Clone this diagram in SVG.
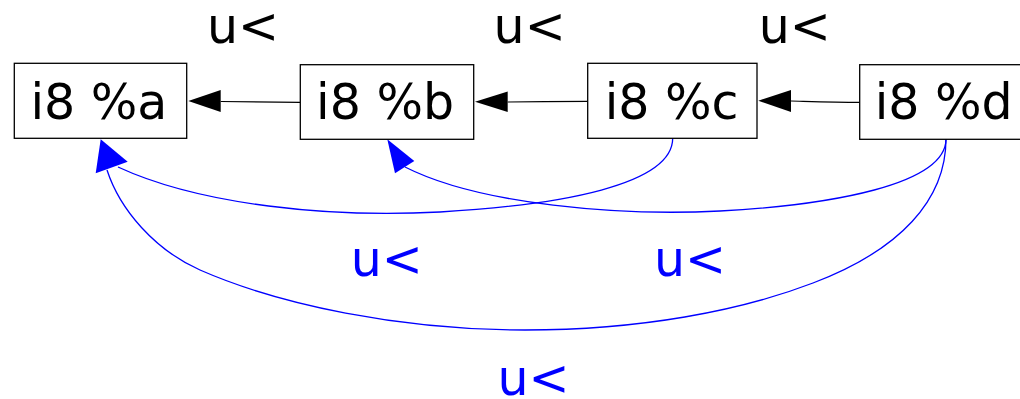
<svg xmlns="http://www.w3.org/2000/svg" width="1020" height="399" viewBox="0 0 1020 399">
  <style>
    .box { fill: #ffffff; stroke: #000000; stroke-width: 1.3; }
    .lbl { font-family: "DejaVu Sans", sans-serif; font-size: 49px; fill: #000000; }
    .blue { fill: #0000ff; }
    .edge { fill: none; stroke: #000000; stroke-width: 1.2; }
    .bedge { fill: none; stroke: #0000ff; stroke-width: 1.3; }
    .head { fill: #000000; stroke: none; }
    .bhead { fill: #0000ff; stroke: none; }
  </style>
  <rect width="1020" height="399" fill="#ffffff"/>

  <g id="connectors">
    <!-- dependency chain d -> c -> b -> a -->
    <path class="edge" d="M300,102.3 C270,102.1 245,101.6 220.7,101.5"/>
    <polygon class="head" points="188.3,101 220.7,90 220.7,112"/>
    <path class="edge" d="M587.7,101.3 C560,101.5 535,101.8 507.7,102"/>
    <polygon class="head" points="475,101.7 507.7,91.5 507.7,112"/>
    <path class="edge" d="M859.7,102.3 C835,102.2 812,101.5 791,101"/>
    <polygon class="head" points="758.3,100.7 791,90 791,112"/>

    <!-- long-range comparisons -->
    <path class="bedge" d="M672.7,138.3 C672.7,185 560,205 440,212 C330,218 200,205 118,167"/>
    <path class="bedge" d="M946,139 C946,185 830,205 720,211 C620,216 480,205 405,167"/>
    <path class="bedge" d="M946,139 C946,200 900,250 813,283 C740,311 640,330 525,330 C400,330 280,305 200,270 C155,250 120,210 107,170"/>
    <polygon class="bhead" points="100.7,139.3 95.7,173.3 127.7,161.7"/>
    <polygon class="bhead" points="387.3,139.3 395,173.3 414.3,161"/>

    <!-- edge labels -->
    <text class="lbl" x="207" y="43">u&lt;</text>
    <text class="lbl" x="493.6" y="43">u&lt;</text>
    <text class="lbl" x="758.8" y="43">u&lt;</text>
    <text class="lbl blue" x="350.8" y="276">u&lt;</text>
    <text class="lbl blue" x="654" y="276">u&lt;</text>
    <text class="lbl blue" x="497.5" y="395">u&lt;</text>
  </g>

  <g id="node-a">
    <rect class="box" x="14.3" y="63.3" width="172.4" height="75"/>
    <text class="lbl" x="30.4" y="119">i8 %a</text>
  </g>
  <g id="node-b">
    <rect class="box" x="300.3" y="64.7" width="173.4" height="74.6"/>
    <text class="lbl" x="316.1" y="119">i8 %b</text>
  </g>
  <g id="node-c">
    <rect class="box" x="587.7" y="63.3" width="169.3" height="75"/>
    <text class="lbl" x="604.7" y="119">i8 %c</text>
  </g>
  <g id="node-d">
    <rect class="box" x="859.7" y="64.7" width="173" height="74.6"/>
    <text class="lbl" x="874.7" y="119">i8 %d</text>
  </g>
</svg>
